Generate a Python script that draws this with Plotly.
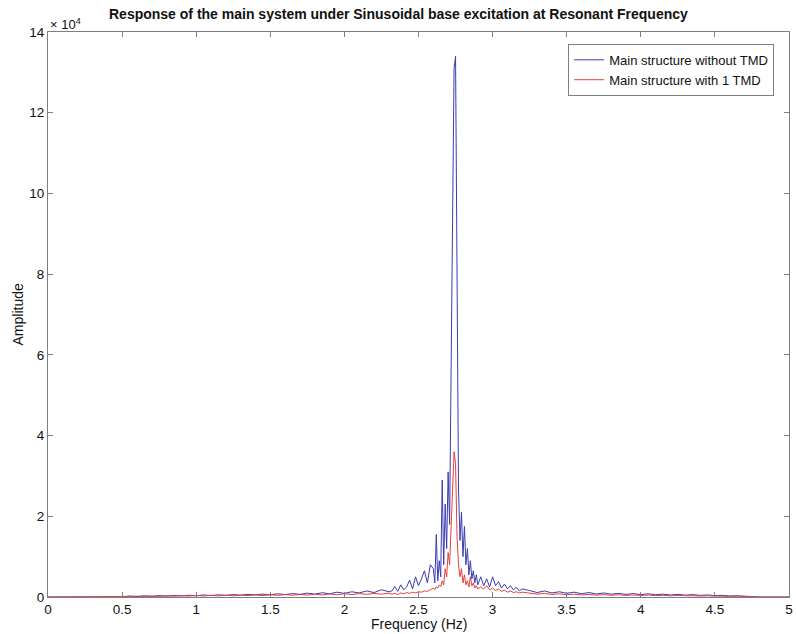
import plotly.graph_objects as go

freq = [0, 0.1, 0.2, 0.3, 0.4, 0.5,
        0.55, 0.6, 0.65, 0.7, 0.75, 0.8, 0.85, 0.9, 0.95, 1.0, 1.05, 1.1, 1.15, 1.2,
        1.25, 1.3, 1.35, 1.4, 1.45, 1.5, 1.55, 1.6, 1.65, 1.7, 1.75, 1.8, 1.85, 1.9,
        1.95, 2.0, 2.05, 2.1, 2.15, 2.2, 2.25, 2.3,
        2.32, 2.34, 2.36, 2.38, 2.40, 2.42, 2.44, 2.46, 2.48, 2.50, 2.52, 2.54, 2.56, 2.58,
        2.60, 2.61, 2.62, 2.63, 2.64, 2.65, 2.66, 2.67, 2.68, 2.69, 2.70, 2.71, 2.72,
        2.73, 2.74, 2.75, 2.76, 2.77, 2.78, 2.79, 2.80, 2.81, 2.82, 2.83, 2.84, 2.85,
        2.86, 2.87, 2.88, 2.89, 2.90,
        2.92, 2.94, 2.96, 2.98, 3.00, 3.02, 3.04, 3.06, 3.08, 3.10, 3.12, 3.14, 3.16, 3.18, 3.20,
        3.25, 3.30, 3.35, 3.40, 3.45, 3.50, 3.55, 3.60, 3.65, 3.70, 3.75, 3.80, 3.85, 3.90,
        3.95, 4.00, 4.05, 4.10, 4.15, 4.20, 4.25, 4.30, 4.35, 4.40, 4.45, 4.50, 4.55, 4.60,
        4.65, 4.70, 4.75,
        4.8, 4.9, 5.0]

amp_without_tmd = [0, 0, 0, 0, 0, 30,
                   250, 100, 300, 150, 350, 200, 400, 250, 450, 300, 500, 350, 550, 400,
                   600, 450, 650, 500, 700, 550, 800, 600, 850, 650, 950, 700, 1050, 800,
                   1200, 900, 1300, 1000, 1500, 1100, 1800, 1300,
                   1500, 2600, 1400, 3000, 1800, 2500, 4200, 2000, 5000, 2800, 4500, 6500, 3500, 8000,
                   7000, 3500, 15500, 4000, 9000, 5000, 29000, 8000, 23000, 12000, 31000, 18000, 56000,
                   100000, 131000, 134000, 72000, 27000, 14000, 21000, 10000, 17500, 8000, 12000, 5500, 9000,
                   4500, 6500, 3500, 5500, 3000,
                   5000, 2800, 4500, 2500, 5000, 2800, 3800, 2200, 3200, 2000, 2800, 1800, 2400, 1500, 2000,
                   1600, 1100, 1500, 1000, 1300, 900, 1200, 800, 1100, 750, 1000, 700, 900, 650,
                   850, 600, 800, 550, 700, 500, 650, 450, 600, 400, 500, 350, 400, 250,
                   300, 150, 100,
                   0, 0, 0]

amp_with_tmd = [0, 0, 0, 0, 0, 0,
                100, 200, 120, 250, 150, 300, 200, 350, 220, 380, 250, 420, 280, 450,
                300, 480, 330, 520, 360, 560, 400, 600, 430, 650, 470, 700, 500, 750,
                550, 800, 600, 850, 650, 900, 700, 950,
                700, 900, 600, 1000, 800, 1100, 900, 1200, 1000, 1300, 1200, 1500, 1400, 1800,
                2200, 1800, 2500, 2200, 3000, 2600, 4000, 3000, 7000, 5000, 11000, 8000, 16000,
                26000, 36000, 33000, 15000, 8000, 5000, 7000, 3500, 5500, 3000, 4000, 2500, 5000,
                2800, 3500, 2200, 2800, 2000,
                2500, 2000, 2800, 1800, 2200, 1600, 2000, 1400, 1700, 1200, 1500, 1100, 1300, 1000, 1200,
                1000, 700, 900, 650, 800, 550, 700, 500, 650, 450, 600, 420, 550, 400,
                500, 380, 480, 350, 420, 300, 380, 280, 330, 250, 280, 200, 250, 150,
                200, 100, 50,
                0, 0, 0]

x_ticks = [0, 0.5, 1, 1.5, 2, 2.5, 3, 3.5, 4, 4.5, 5]
x_tick_labels = ["0", "0.5", "1", "1.5", "2", "2.5", "3", "3.5", "4", "4.5", "5"]
y_ticks = [0, 20000, 40000, 60000, 80000, 100000, 120000, 140000]
y_tick_labels = ["0", "2", "4", "6", "8", "10", "12", "14"]

FONT = "Liberation Sans, Arial, sans-serif"
AXIS_COLOR = "#7f7f7f"
TXT = "#111111"

fig = go.Figure()
fig.add_trace(go.Scatter(x=freq, y=amp_without_tmd, mode="lines",
                         name="Main structure without TMD",
                         line=dict(color="#3b3bb3", width=1)))
fig.add_trace(go.Scatter(x=freq, y=amp_with_tmd, mode="lines",
                         name="Main structure with 1 TMD",
                         line=dict(color="#e5403c", width=1)))

axis_common = dict(showgrid=False, zeroline=False, showline=True, linecolor=AXIS_COLOR,
                   linewidth=1, mirror="ticks", ticks="inside", ticklen=5,
                   tickcolor=AXIS_COLOR, ticklabeloverflow="allow",
                   tickfont=dict(family=FONT, size=13.5, color=TXT))

fig.update_xaxes(range=[0, 5], tickvals=x_ticks, ticktext=x_tick_labels, ticklabelstandoff=0,
                 **axis_common)
fig.update_yaxes(range=[0, 140000], tickvals=y_ticks, ticktext=y_tick_labels, **axis_common)

fig.update_layout(
    width=796, height=634,
    margin=dict(l=48, r=3, t=32, b=37),
    paper_bgcolor="white", plot_bgcolor="white",
    showlegend=True,
    legend=dict(x=0.98, y=0.979, xanchor="right", yanchor="top",
                bgcolor="white", bordercolor=AXIS_COLOR, borderwidth=1,
                font=dict(family=FONT, size=13, color=TXT),
                tracegroupgap=0, itemwidth=30),
    annotations=[
        dict(text="<b>Response of the main system under Sinusoidal base excitation at Resonant Frequency</b>",
             xref="paper", yref="paper", x=0.473, y=1.0, yshift=18, xanchor="center", yanchor="middle",
             showarrow=False, font=dict(family=FONT, size=14, color=TXT)),
        dict(text="Frequency (Hz)", xref="paper", yref="paper", x=0.5, y=0, yshift=-27,
             yanchor="middle", showarrow=False, font=dict(family=FONT, size=14, color=TXT)),
        dict(text="Amplitude", xref="paper", yref="paper", x=0, xshift=-31, y=0.5,
             xanchor="center", yanchor="middle",
             textangle=-90, showarrow=False, font=dict(family=FONT, size=14, color=TXT)),
        dict(text="\u00d7 10<sup>4</sup>", xref="paper", yref="paper", x=0, y=1,
             xanchor="left", yanchor="bottom", xshift=0, yshift=-2,
             showarrow=False, font=dict(family=FONT, size=13, color=TXT)),
    ],
)

fig.write_html("out.html")
